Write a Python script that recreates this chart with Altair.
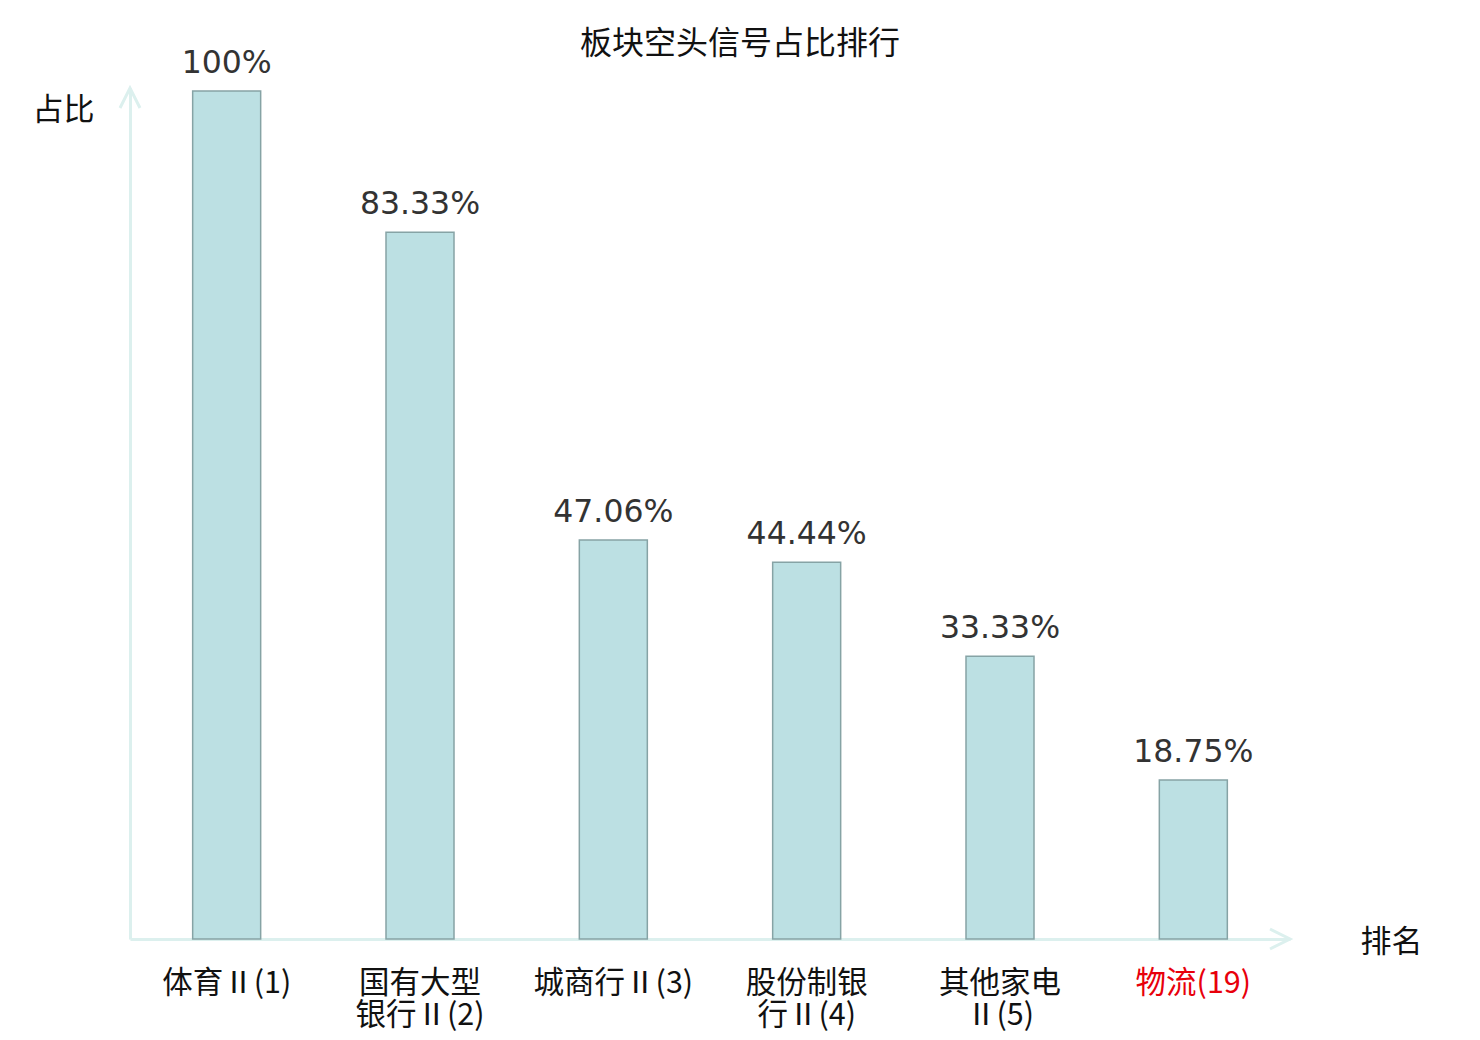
import altair as alt
import pandas as pd

categories = ["体育Ⅱ(1)", "国有大型\n银行Ⅱ(2)", "城商行Ⅱ(3)", "股份制银\n行Ⅱ(4)", "其他家电\nⅡ(5)", "物流(19)"]
values = [100, 83.33, 47.06, 44.44, 33.33, 18.75]
value_labels = ["100%", "83.33%", "47.06%", "44.44%", "33.33%", "18.75%"]
highlight = [False, False, False, False, False, True]

df = pd.DataFrame({"cat": categories, "val": values, "lab": value_labels, "hl": highlight})

W, H = 1160, 851
AXIS_COLOR = "#dcf0ee"
CJK = "Noto Sans CJK SC"

x_scale = alt.Scale(domain=categories, paddingInner=0, paddingOuter=0)
y_scale = alt.Scale(domain=[0, 100.35], nice=False)

x_enc = alt.X("cat:N", scale=x_scale, sort=categories,
              axis=alt.Axis(title="排名", titleFont=CJK, titleFontSize=31, titleFontWeight="normal",
                            titleColor="#111111", titleX=1261, titleY=3, titleAlign="center",
                            titleBaseline="middle", titleAngle=0,
                            labelAngle=0, labelFont=CJK, labelFontSize=30.5, labelPadding=29,
                            labelExpr="split(datum.label, '\\n')", labelLineHeight=32.5,
                            labelBaseline="top", labelOverlap=False, labelBound=False,
                            labelColor=alt.condition("datum.value == '物流(19)'", alt.value("#e8000b"), alt.value("#111111")),
                            ticks=False, domainColor=AXIS_COLOR, domainWidth=3))
y_enc = alt.Y("val:Q", scale=y_scale,
              axis=alt.Axis(title="占比", titleFont=CJK, titleFontSize=31, titleFontWeight="normal",
                            titleColor="#111111", titleAngle=0, titleX=-67, titleY=22,
                            titleAlign="center", titleBaseline="middle",
                            labels=False, ticks=False, grid=False,
                            domainColor=AXIS_COLOR, domainWidth=3))

bars = alt.Chart(df).mark_bar(color="#bce0e3", stroke="#86a3a5", strokeWidth=1.5, width=68).encode(
    x=x_enc, y=y_enc
)

texts = alt.Chart(df).mark_text(font="DejaVu Sans", fontSize=31.5, color="#333333",
                                baseline="alphabetic", dy=-18).encode(
    x=alt.X("cat:N", scale=x_scale, sort=categories),
    y=alt.Y("val:Q", scale=y_scale),
    text="lab:N"
)

arrow_df = pd.DataFrame({"k": ["x", "y"]})
x_arrow = alt.Chart(arrow_df.iloc[[0]]).mark_point(
    shape="M-2,-1L0,0L-2,1", size=400, filled=False, stroke=AXIS_COLOR, strokeWidth=3, opacity=1
).encode(x=alt.value(W), y=alt.value(H))
y_arrow = alt.Chart(arrow_df.iloc[[1]]).mark_point(
    shape="M-1,2L0,0L1,2", size=400, filled=False, stroke=AXIS_COLOR, strokeWidth=3, opacity=1
).encode(x=alt.value(0), y=alt.value(0))

chart = alt.layer(bars, texts, x_arrow, y_arrow).properties(
    width=W, height=H,
    title=alt.TitleParams("板块空头信号占比排行", font=CJK, fontSize=32, fontWeight="normal",
                          color="#111111", anchor="middle", dx=30, offset=-13),
    autosize=alt.AutoSizeParams(type="none"),
    padding={"left": 122, "top": 80, "right": 170, "bottom": 95},
).configure(background="white", view=alt.ViewConfig(stroke="transparent", strokeWidth=0))

chart.save("out.html", embed_options={"renderer": "svg", "actions": False})
